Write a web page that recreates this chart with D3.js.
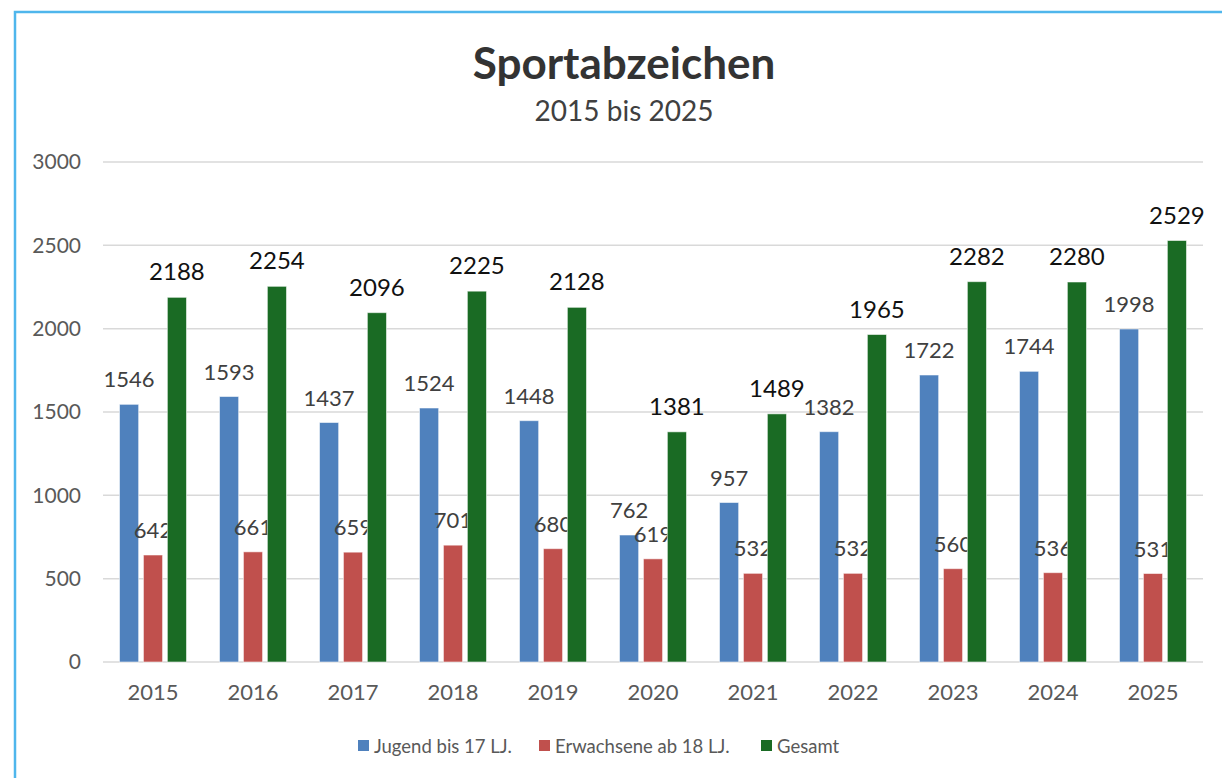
<!DOCTYPE html>
<html>
<head>
<meta charset="utf-8">
<script src="https://cdn.jsdelivr.net/npm/d3@7"></script>
<style>
  body { margin: 0; background: #fff; }
  svg { display: block; font-family: Lato, "Open Sans", sans-serif; }
</style>
</head>
<body>
<div id="chart"></div>
<script>
const years = ['2015','2016','2017','2018','2019','2020','2021','2022','2023','2024','2025']
const jugend = [1546, 1593, 1437, 1524, 1448, 762, 957, 1382, 1722, 1744, 1998]
const erwachsene = [642, 661, 659, 701, 680, 619, 532, 532, 560, 536, 531]
const gesamt = [2188, 2254, 2096, 2225, 2128, 1381, 1489, 1965, 2282, 2280, 2529]
const seriesNames = ['Jugend bis 17 LJ.', 'Erwachsene ab 18 LJ.', 'Gesamt']
const yTicks = [0, 500, 1000, 1500, 2000, 2500, 3000]

const colors = ['#4f81bd', '#c0504d', '#1a6b24']
const width = 1222
const height = 778
const margin = { top: 162, left: 103, right: 19, bottom: 116 }

const svg = d3.select('#chart')
  .append('svg')
  .attr('width', width)
  .attr('height', height)

// chart frame
svg.append('path')
  .attr('d', `M15,${height} L15,12 L${width},12`)
  .attr('fill', 'none')
  .attr('stroke', '#4fb6ec')
  .attr('stroke-width', 2.5)

svg.append('text')
  .attr('x', 624).attr('y', 79)
  .attr('text-anchor', 'middle')
  .style('font-size', '44px')
  .style('font-weight', 'bold')
  .attr('fill', '#333')
  .text('Sportabzeichen')

svg.append('text')
  .attr('x', 624).attr('y', 121)
  .attr('text-anchor', 'middle')
  .style('font-size', '28px')
  .attr('fill', '#404040')
  .text('2015 bis 2025')

const x = d3.scaleBand()
  .domain(years)
  .range([margin.left, width - margin.right])

const y = d3.scaleLinear()
  .domain([0, 3000])
  .range([height - margin.bottom, margin.top])

const inner = d3.scaleBand()
  .domain(d3.range(3))
  .range([-33.5, 33.5])
  .paddingInner(0.2)

// gridlines
svg.append('g')
  .selectAll('line')
  .data(yTicks)
  .enter()
  .append('line')
  .attr('x1', margin.left)
  .attr('x2', width - margin.right)
  .attr('y1', d => y(d))
  .attr('y2', d => y(d))
  .attr('stroke', '#d9d9d9')
  .attr('stroke-width', 1.5)

const yAxis = svg.append('g')
  .attr('transform', `translate(${margin.left - 22},0)`)
  .call(d3.axisLeft(y).tickValues(yTicks).tickFormat(d3.format('d')).tickSize(0).tickPadding(0))
yAxis.select('.domain').remove()
yAxis.selectAll('text')
  .style('font-size', '21px')
  .style('font-family', 'Lato, sans-serif')
  .attr('fill', '#595959')

const xAxis = svg.append('g')
  .attr('transform', `translate(0,${height - margin.bottom})`)
  .call(d3.axisBottom(x).tickSize(0).tickPadding(22))
xAxis.select('.domain').remove()
xAxis.selectAll('text')
  .style('font-size', '22px')
  .style('font-family', 'Lato, sans-serif')
  .attr('fill', '#595959')

const allSeries = [jugend, erwachsene, gesamt]

allSeries.forEach((values, i) => {
  const g = svg.append('g')
  g.selectAll('rect')
    .data(values)
    .enter()
    .append('rect')
    .attr('x', (d, j) => x(years[j]) + x.bandwidth() / 2 + inner(i))
    .attr('width', inner.bandwidth())
    .attr('y', d => y(d))
    .attr('height', d => y(0) - y(d))
    .attr('fill', colors[i])
    .attr('stroke', 'rgba(255,255,255,0.55)')
    .attr('stroke-width', 1)

  g.selectAll('text')
    .data(values)
    .enter()
    .append('text')
    .attr('x', (d, j) => x(years[j]) + x.bandwidth() / 2 + inner(i) + inner.bandwidth() / 2)
    .attr('y', d => y(d) - 17)
    .attr('text-anchor', 'middle')
    .style('font-size', i === 2 ? '24px' : '22px')
    .attr('fill', i === 2 ? '#111' : '#404040')
    .text(d => d)
})

// legend
const legendX = [358, 539, 761]
const legend = svg.append('g')
seriesNames.forEach((name, i) => {
  legend.append('rect')
    .attr('x', legendX[i]).attr('y', 740)
    .attr('width', 11).attr('height', 11)
    .attr('fill', colors[i])
  legend.append('text')
    .attr('x', legendX[i] + 16).attr('y', 753)
    .style('font-size', '18.5px')
    .attr('fill', '#595959')
    .text(name)
})
</script>
</body>
</html>
